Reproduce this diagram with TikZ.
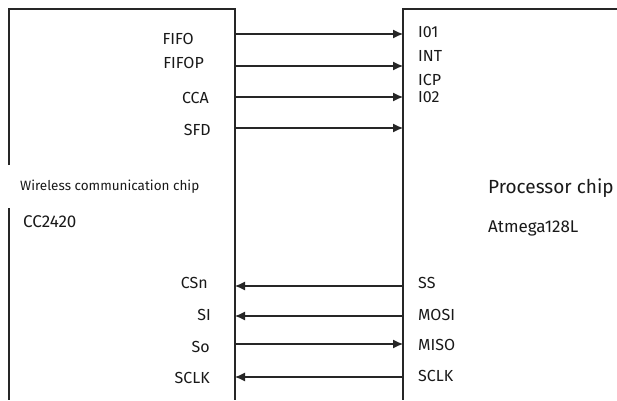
\documentclass[tikz,border=0pt]{standalone}
\usepackage{fontspec}
\setmainfont{Fira Sans}
\usetikzlibrary{arrows.meta}
\begin{document}
\begin{tikzpicture}[x=1pt,y=-1pt,
  box/.style={line width=1.1pt,black!85},
  sig/.style={line width=1.1pt,black!85},
  sigr/.style={sig,-{Latex[length=10pt,width=9pt]}},
  lab/.style={font=\fontsize{16}{18}\selectfont,inner sep=0pt,text=black!90},
  labl/.style={lab,anchor=base east},
  labr/.style={lab,anchor=base west},
  title/.style={font=\fontsize{19}{21}\selectfont,inner sep=0pt,anchor=base west,text=black!90},
  sub/.style={font=\fontsize{17}{19}\selectfont,inner sep=0pt,anchor=base west,text=black!90}]
\useasboundingbox (0,0) rectangle (617,400);
% boxes
\draw[box] (9,165) -- (9,9) -- (235,9) -- (235,400);
\draw[box] (9,208) -- (9,400);
\draw[box] (617,9) -- (403,9) -- (403,400);
% box texts
\node[sub,font=\fontsize{13.5}{15}\selectfont] (wcc) at (20,190) {Wireless communication chip};
\node[sub] (cc) at (23,227) {CC2420};
\node[title] (pc) at (488,193) {Processor chip};
\node[sub] (at) at (488,232) {Atmega128L};
% coordinates
\foreach \n/\y in {1/34,2/66,3/97,4/128,5/286,6/316,7/344,8/377}{
  \coordinate (L\n) at (235,\y);
  \coordinate (R\n) at (403,\y);
}
\draw[sigr] (L1) -- (R1);
\draw[sigr] (L2) -- (R2);
\draw[sigr] (L3) -- (R3);
\draw[sigr] (L4) -- (R4);
\draw[sigr] (R5) -- (L5);
\draw[sigr] (R6) -- (L6);
\draw[sigr] (L7) -- (R7);
\draw[sigr] (R8) -- (L8);
% left labels
\node[labl] (fifo) at (194,44) {FIFO};
\node[labl] (fifop) at (204,68) {FIFOP};
\node[labl] (cca) at (209,103) {CCA};
\node[labl] (sfd) at (211,135) {SFD};
\node[labl] (csn) at (208,288) {CSn};
\node[labl] (si) at (211,320) {SI};
\node[labl] (so) at (210,352) {So};
\node[labl] (sclkl) at (210,383) {SCLK};
% right labels
\node[labr] (io1) at (418,37) {I01};
\node[labr] (int) at (418,61) {INT};
\node[labr] (icp) at (418,85) {ICP};
\node[labr] (io2) at (418,102) {I02};
\node[labr] (ss) at (418,288) {SS};
\node[labr] (mosi) at (418,320) {MOSI};
\node[labr] (miso) at (418,350) {MISO};
\node[labr] (sclkr) at (418,381) {SCLK};
\end{tikzpicture}
\end{document}
